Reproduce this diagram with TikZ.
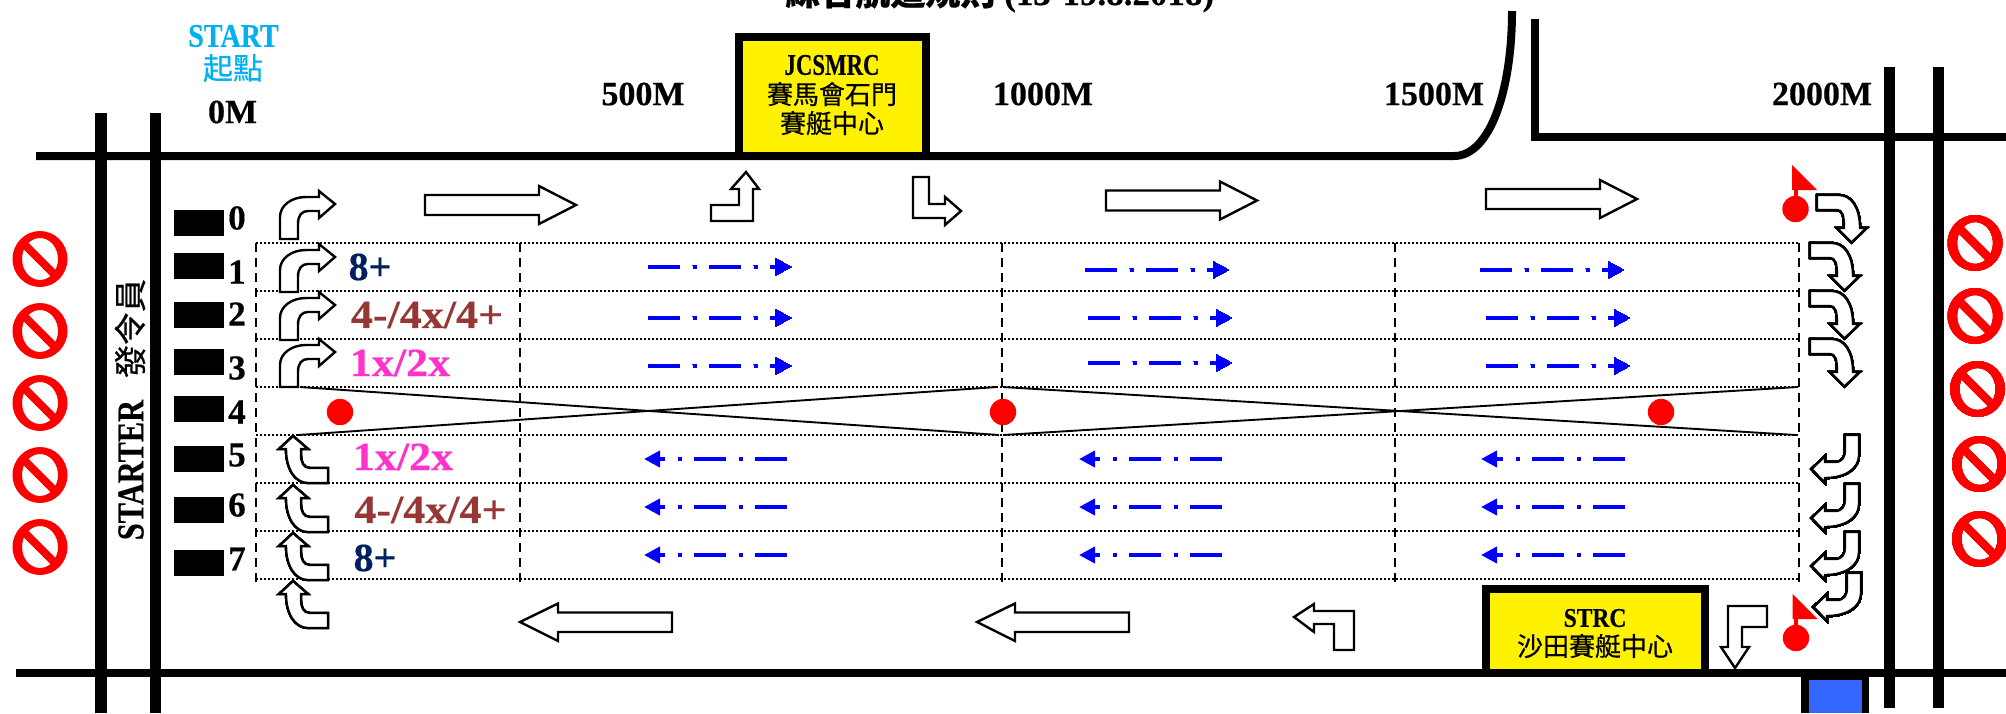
\documentclass[tikz,border=0pt]{standalone}
\usepackage{fontspec}
\usepackage{graphicx}
\usetikzlibrary{arrows.meta}
\setmainfont[BoldFeatures={FakeBold=0.4}]{Liberation Serif}
\newfontfamily\cjk[FakeBold=0.5]{Noto Sans CJK TC}
\newlength\pxu \setlength\pxu{0.5pt}
\newcommand\fz[1]{\fontsize{\dimexpr#1\pxu\relax}{\dimexpr#1\pxu*6/5\relax}\selectfont}
\definecolor{cyanlab}{HTML}{00B0F0}
\definecolor{navylab}{HTML}{002060}
\definecolor{brownlab}{HTML}{953735}
\definecolor{pinklab}{HTML}{FF33CC}
\definecolor{boxblue}{HTML}{3366FF}
\tikzset{
  x=0.5pt,y=-0.5pt,
  road/.style={line width=4pt,black},
  bar/.style={line width=5.8pt,black},
  outl/.style={draw=black,fill=white,line width=1.2pt,line join=miter},
  lab/.style={inner sep=0pt,font=\bfseries\fz{34}},
  lane/.style={inner sep=0pt,font=\bfseries\fz{35}},
  cls/.style={inner sep=0pt,font=\bfseries\fz{40}},
  zh/.style={inner sep=0pt,font=\cjk\fz{26}},
  hdot/.style={draw=black,line width=0.6pt,dash pattern=on 1.2pt off 0.8pt},
  vdash/.style={draw=black,line width=0.8pt,dash pattern=on 4.5pt off 3pt},
  xline/.style={draw=black,line width=0.95pt},
  blk/.style={fill=black},
  reddot/.style={fill=red},
  flowline/.style={draw=blue,line width=2pt,dash pattern=on 16pt off 6.25pt on 2pt off 6.25pt,
     -{Triangle[length=8pt,width=8pt]}},
  boxedge/.style={draw=black,line width=4pt,fill=yellow},
}
\newcommand\bigR[2]{\draw[outl] (#1,#2-10) -- (#1+114,#2-10) -- (#1+114,#2-19) -- (#1+151,#2) -- (#1+114,#2+19) -- (#1+114,#2+10) -- (#1,#2+10) -- cycle;}
\newcommand\bigL[2]{\draw[outl] (#1,#2) -- (#1+38,#2-18.5) -- (#1+38,#2-9.5) -- (#1+152,#2-9.5) -- (#1+152,#2+10) -- (#1+38,#2+10) -- (#1+38,#2+19) -- cycle;}
\newcommand\curveR[2]{\begin{scope}[shift={(#1,#2)}]\draw[outl] (0,0) -- (0,-22) .. controls (0,-34) and (12,-42) .. (26,-42) -- (39,-42) -- (39,-48) -- (55,-35) -- (39,-21) -- (39,-28) -- (28,-28) .. controls (22,-28) and (18,-24) .. (18,-15) -- (18,0) -- cycle;\end{scope}}
\newcommand\curveU[2]{\begin{scope}[shift={(#1,#2)}]\draw[outl] (0,2) -- (15,15) -- (8,15) -- (8,21) .. controls (8,29) and (11,34) .. (17,34) -- (35,34) -- (35,49) -- (15,49) .. controls (2,49) and (-7,35) .. (-7,15) -- (-14,15) -- cycle;\end{scope}}
\newcommand\curveD[2]{\begin{scope}[shift={(#1,#2)}]\draw[outl] (0,0) -- (0,15) -- (20,15) .. controls (25,15) and (27,20) .. (27,33) -- (20,33) -- (34.5,47.5) -- (49.5,33) -- (43,33) .. controls (43,12) and (34,0) .. (22,0) -- cycle;\end{scope}}
\newcommand\curveL[2]{\begin{scope}[shift={(#1,#2)}]\draw[outl] (35,-34) -- (49,-34) -- (49,-14) .. controls (49,0) and (35,9) .. (15,9) -- (15,14) -- (1.5,0) -- (15,-13) -- (15,-7) -- (25,-7) .. controls (32,-7) and (35,-12) .. (35,-19) -- cycle;\end{scope}}
\newcommand\noentry[2]{\begin{scope}[shift={(#1,#2)}]\fill[red,even odd rule] (0,0) ellipse [x radius=27.5,y radius=28] (0,0) ellipse [x radius=18,y radius=21];\draw[red,line width=4pt] (-15,-14) -- (15,16);\end{scope}}
\newcommand\flagpin[2]{\begin{scope}[shift={(#1,#2)}]\fill[red] (-3.5,-44) -- (21.5,-19) -- (-3.5,-19) -- cycle;\fill[red] (-2,-22) rectangle (2,0);\fill[reddot] (0,0) circle (13.2);\end{scope}}
\begin{document}
\begin{tikzpicture}
\useasboundingbox (0,0) rectangle (2006,713);
\clip (0,0) rectangle (2006,713);
% title
\node[inner sep=0pt,anchor=base west,font=\bfseries\fz{35}] (title) at (785,5) {{\cjk 綜合航道規則} (13-19.8.2018)};
% roads
\draw[road] (36,156) -- (1454,156) .. controls (1490,156) and (1512,90) .. (1512,11);
\draw[road] (1535,19) -- (1535,137) -- (2006,137);
\draw[road] (16,673) -- (2006,673);
\draw[bar] (101,113) -- (101,713);
\draw[bar] (155.5,113) -- (155.5,713);
\draw[bar] (1889.5,67) -- (1889.5,708);
\draw[bar] (1938.5,67) -- (1938.5,708);
% grid
\foreach \yy in {243,291,339,387,435,483,531,579} \draw[hdot] (256,\yy) -- (1799,\yy);
\foreach \xx in {256,520,1002,1395,1799} \draw[vdash] (\xx,243) -- (\xx,582);
\draw[xline] (300,387) -- (999,435);
\draw[xline] (298,435) -- (997,387);
\draw[xline] (1003,387) -- (1796,435);
\draw[xline] (1003,435) -- (1798,387);
% start blocks
\foreach \yy in {210,253,302,349,396,446,497,550} \fill[blk] (174,\yy) rectangle (224,\yy+26);
\node[lane] (n0) at (237,218) {0};
\node[lane] (n1) at (237,272) {1};
\node[lane] (n2) at (237,314) {2};
\node[lane] (n3) at (237,368) {3};
\node[lane] (n4) at (237,412) {4};
\node[lane] (n5) at (237,455) {5};
\node[lane] (n6) at (237,505) {6};
\node[lane] (n7) at (237,559) {7};
% dots
\fill[reddot] (340,412) circle (13.2);
\fill[reddot] (1003,412) circle (13.2);
\fill[reddot] (1661,412) circle (13.2);
% big arrows
\bigR{425}{205}
\bigR{1106}{200.5}
\bigR{1486}{199}
\bigL{520}{622}
\bigL{977}{622}
% bent arrows
\draw[outl] (711,205) -- (739,205) -- (739,189) -- (731,189) -- (746,172) -- (759,189) -- (753,189) -- (753,221) -- (711,221) -- cycle;
\draw[outl] (913,177) -- (929,177) -- (929,204) -- (945,204) -- (945,197) -- (961,211) -- (945,225) -- (945,218) -- (913,218) -- cycle;
\draw[outl] (1294,617) -- (1314,604) -- (1314,611) -- (1354,611) -- (1354,650) -- (1334,650) -- (1334,624) -- (1314,624) -- (1314,632) -- cycle;
\draw[outl] (1728,606) -- (1767,606) -- (1767,627) -- (1742,627) -- (1742,647) -- (1749,647) -- (1735,668) -- (1721,647) -- (1728,647) -- cycle;
% curved arrows
\foreach \yy in {239,292,340,387} \curveR{280}{\yy}
\foreach \yy in {434,483,531,579} \curveU{293}{\yy}
\curveD{1817}{195}
\foreach \yy in {243,291,339} \curveD{1810}{\yy}
\foreach \yy in {469,518,566} \curveL{1810}{\yy}
\curveL{1812}{607}
% blue flow arrows
\foreach \xa/\xb/\yy in {648/791.5/267,648/791.5/318,648/791.5/366,1085/1229/270,1088/1232/318,1088/1232/363,1480/1624/270,1486/1630/318,1486/1630/366}
  \draw[flowline] (\xa,\yy) -- (\xb,\yy);
\foreach \xa/\xb in {787/644,1222/1079,1625/1481} \foreach \yy in {459,507,555}
  \draw[flowline] (\xa,\yy) -- (\xb,\yy);
% flags
\flagpin{1795.5}{209}
\flagpin{1796}{638}
% no entry
\foreach \yy in {259,331,403,475,547} \noentry{40}{\yy}
\noentry{1975}{243}
\noentry{1975}{316}
\noentry{1977.5}{389}
\noentry{1979.5}{464}
\noentry{1979.5}{539}
% boxes
\draw[boxedge] (739,37) rectangle (926,156);
\node[inner sep=0pt,font=\bfseries\fz{30}] (jc) at (832,65) {\scalebox{.76}[1]{JCSMRC}};
\node[zh] (jc1) at (832,94) {賽馬會石門};
\node[zh] (jc2) at (832,123) {賽艇中心};
\draw[boxedge] (1486,589) rectangle (1704.5,673);
\node[inner sep=0pt,font=\bfseries\fz{27}] (st) at (1595,618) {\scalebox{.87}[1]{STRC}};
\node[zh] (st1) at (1595,646) {沙田賽艇中心};
\fill[black] (1801,669) rectangle (1869,713);
\fill[boxblue] (1809,680) rectangle (1862,713);
% labels
\node[inner sep=0pt,font=\bfseries\fz{33},text=cyanlab] (start) at (233.5,36) {\scalebox{.85}[1]{START}};
\node[inner sep=0pt,font=\cjk\fz{30},text=cyanlab] (qd) at (233,68) {起點};
\node[lab] (m0) at (232.6,112) {0M};
\node[lab] (m1) at (643,94) {500M};
\node[lab] (m2) at (1043,94) {1000M};
\node[lab] (m3) at (1434,94) {1500M};
\node[lab] (m4) at (1822,94) {2000M};
\node[inner sep=0pt,font=\bfseries\fz{38},rotate=90] (starter) at (131,470) {\scalebox{.8}[1]{STARTER}};
\node[inner sep=0pt,font=\cjk\fz{33},rotate=90] (fly) at (130,328.5) {發令員};
\node[cls,text=navylab] (c1) at (370,267) {8+};
\node[cls,text=brownlab] (c2) at (427,315) {\scalebox{1.1}[1]{4-/4x/4+}};
\node[cls,text=pinklab] (c3) at (400,363) {\scalebox{1.1}[1]{1x/2x}};
\node[cls,text=pinklab] (c5) at (403,457) {\scalebox{1.1}[1]{1x/2x}};
\node[cls,text=brownlab] (c6) at (430.5,510) {\scalebox{1.1}[1]{4-/4x/4+}};
\node[cls,text=navylab] (c7) at (375,558) {8+};
\end{tikzpicture}
\end{document}
